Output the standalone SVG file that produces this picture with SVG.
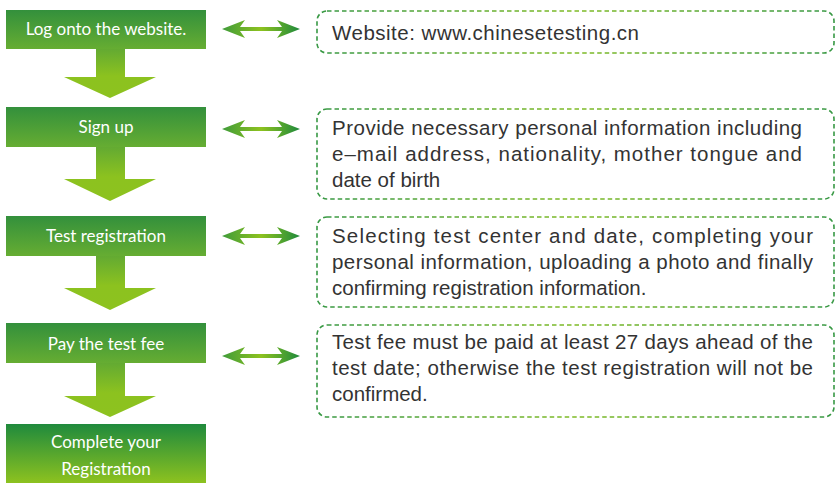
<svg xmlns="http://www.w3.org/2000/svg" width="836" height="483" viewBox="0 0 836 483">
<defs>
<linearGradient id="gBox" x1="0" y1="0" x2="0" y2="1"><stop offset="0" stop-color="#33903c"/><stop offset="1" stop-color="#66ad32"/></linearGradient>
<linearGradient id="gBox5" x1="0" y1="0" x2="0" y2="1"><stop offset="0" stop-color="#1f8a3d"/><stop offset="1" stop-color="#8dc21f"/></linearGradient>
<linearGradient id="gDown" x1="0" y1="0" x2="0" y2="1"><stop offset="0" stop-color="#63aa32"/><stop offset="0.55" stop-color="#8cc21f"/><stop offset="1" stop-color="#8dc21f"/></linearGradient>
<linearGradient id="gH" x1="0" y1="0" x2="1" y2="0"><stop offset="0" stop-color="#3f9b3a"/><stop offset="0.5" stop-color="#8dc21f"/><stop offset="1" stop-color="#1f8a3c"/></linearGradient>
<linearGradient id="gDash" x1="0" y1="0" x2="1" y2="0"><stop offset="0" stop-color="#379844"/><stop offset="0.5" stop-color="#7fbb26"/><stop offset="1" stop-color="#379844"/></linearGradient>
</defs>
<style>
.step{fill:url(#gBox)}
.lbl{font-family:"Lato","Open Sans","Liberation Sans",sans-serif;font-size:17px;fill:#ffffff;text-anchor:middle}
.info{fill:none;stroke:url(#gDash);stroke-width:1.6;stroke-dasharray:4.5 3}
.txt{font-family:"Liberation Sans","Arial",sans-serif;font-size:20.5px;fill:#333333}
.down{fill:url(#gDown)}
.dbl{fill:url(#gH)}
</style>
<g id="connectors">
<polygon class="down" points="96,49 125,49 125,77 156,77 110,98 64,77 96,77"/>
<polygon class="down" points="96,147 125,147 125,179 156,179 110,201 64,179 96,179"/>
<polygon class="down" points="96,256 125,256 125,288 156,288 110,310 64,288 96,288"/>
<polygon class="down" points="96,363 125,363 125,396 156,396 110,417 64,396 96,396"/>
<polygon class="dbl" points="222,29 245,20 240,27 282,27 277,20 300,29 277,38 282,31 240,31 245,38"/>
<polygon class="dbl" points="222,129 245,120 240,127 282,127 277,120 300,129 277,138 282,131 240,131 245,138"/>
<polygon class="dbl" points="222,236 245,227 240,234 282,234 277,227 300,236 277,245 282,238 240,238 245,245"/>
<polygon class="dbl" points="222,356 245,347 240,354 282,354 277,347 300,356 277,365 282,358 240,358 245,365"/>
</g>
<g id="step1"><rect class="step" x="6" y="10" width="200" height="39"/><text class="lbl" x="106" y="35">Log onto the website.</text></g>
<g id="step2"><rect class="step" x="6" y="107" width="200" height="40"/><text class="lbl" x="106" y="133">Sign up</text></g>
<g id="step3"><rect class="step" x="6" y="216" width="200" height="40"/><text class="lbl" x="106" y="242">Test registration</text></g>
<g id="step4"><rect class="step" x="6" y="323" width="200" height="40"/><text class="lbl" x="106" y="350">Pay the test fee</text></g>
<g id="step5"><rect x="6" y="424" width="200" height="59" fill="url(#gBox5)"/><text class="lbl" x="106" y="448">Complete your</text><text class="lbl" x="106" y="475">Registration</text></g>
<g id="info1"><rect class="info" x="317" y="11" width="517" height="42" rx="10"/><text class="txt" x="332" y="40" textLength="307">Website: www.chinesetesting.cn</text></g>
<g id="info2"><rect class="info" x="317" y="109" width="517" height="90" rx="10"/>
<text class="txt" x="332" y="135" textLength="470">Provide necessary personal information including</text>
<text class="txt" x="332" y="161" textLength="470">e–mail address, nationality, mother tongue and</text>
<text class="txt" x="332" y="187">date of birth</text></g>
<g id="info3"><rect class="info" x="317" y="217" width="517" height="90" rx="10"/>
<text class="txt" x="332" y="243" textLength="481">Selecting test center and date, completing your</text>
<text class="txt" x="332" y="269" textLength="481">personal information, uploading a photo and finally</text>
<text class="txt" x="332" y="295">confirming registration information.</text></g>
<g id="info4"><rect class="info" x="317" y="325" width="517" height="92" rx="10"/>
<text class="txt" x="332" y="349" textLength="481">Test fee must be paid at least 27 days ahead of the</text>
<text class="txt" x="332" y="375" textLength="481">test date; otherwise the test registration will not be</text>
<text class="txt" x="332" y="401">confirmed.</text></g>
</svg>
